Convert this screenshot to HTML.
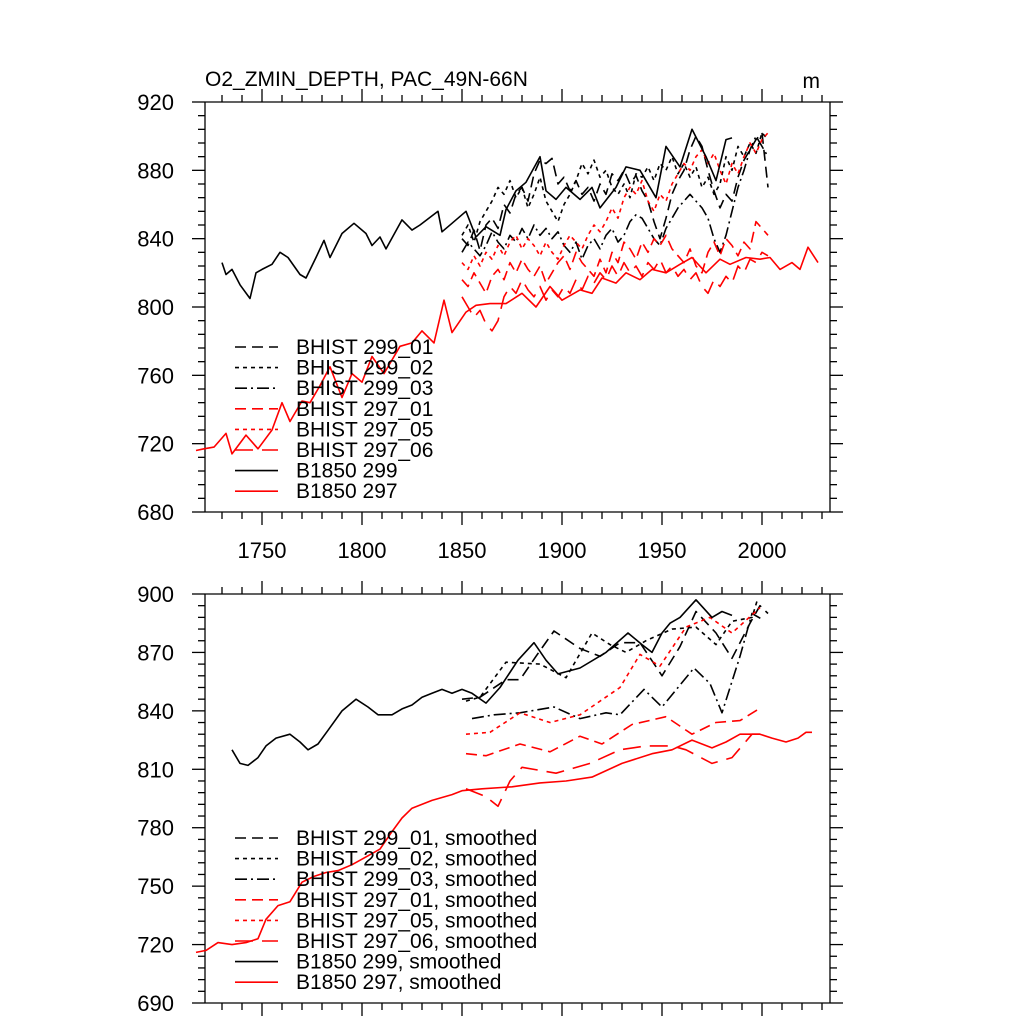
<!DOCTYPE html>
<html><head><meta charset="utf-8"><style>
html,body{margin:0;padding:0;background:#fff;}
svg{display:block;font-family:"Liberation Sans",sans-serif;}
</style></head><body>
<svg id="chart" width="1024" height="1024" viewBox="0 0 1024 1024"></svg>
<script>
// ---------- data ----------
const xTickLabels = ["1750","1800","1850","1900","1950","2000"];
const xTickYears = [1750,1800,1850,1900,1950,2000];
const topYTicks = [680,720,760,800,840,880,920];
const botYTicks = [690,720,750,780,810,840,870,900];

// top panel (BHIST on 3-year steps starting 1850)
const bhistStart = 1850;
const bhistStep = 3;
const top299_01 = [840,836,845,833,848,852,846,860,855,866,870,862,878,886,884,887,872,876,868,874,866,870,862,872,866,878,874,880,872,877,868,862,850,840,852,866,874,880,892,900,894,880,868,858,866,862,876,886,892,898,902,870];
const top299_02 = [842,848,838,850,856,862,870,866,874,864,870,858,866,876,862,856,850,860,866,874,884,878,886,876,880,870,866,872,864,878,876,882,874,884,880,888,878,884,876,882,870,876,866,872,888,880,894,888,896,890,902,898];
const top299_03 = [832,838,834,830,836,844,838,834,842,838,846,840,848,842,846,840,844,836,832,838,828,836,840,834,842,846,838,842,850,854,852,846,840,836,846,852,858,862,866,862,858,852,840,832,842,856,870,880,892,900,894,888];
const top297_01 = [816,812,820,814,808,818,822,816,826,820,828,822,818,824,814,820,826,830,822,832,826,822,818,828,820,832,826,838,834,828,838,832,840,836,842,834,830,826,834,824,820,832,838,830,840,836,830,838,834,850,846,842];
const top297_05 = [826,822,830,824,832,828,836,830,838,842,834,840,836,830,838,832,828,836,842,838,834,842,848,844,850,858,852,864,870,866,874,862,856,866,862,872,878,884,880,888,892,884,890,880,872,884,878,888,896,890,898,902];
const top297_06 = [806,800,794,798,790,786,792,806,812,808,816,810,806,812,804,810,806,812,808,816,810,818,814,820,816,824,818,826,820,824,818,826,822,828,820,824,818,822,816,820,812,808,816,812,818,814,824,820,828,826,832,830];
const topB299Years = [1730,1732,1735,1739,1744,1747,1750,1755,1759,1763,1769,1772,1777,1781,1784,1790,1796,1802,1805,1809,1812,1820,1825,1829,1838,1840,1845,1852,1857,1862,1869,1872,1877,1882,1889,1892,1897,1902,1909,1915,1919,1927,1932,1939,1947,1952,1959,1965,1972,1977,1982,1985];
const topB299Vals = [826,819,822,813,805,820,822,825,832,829,819,817,829,839,829,843,849,843,836,841,834,851,845,848,856,844,849,856,841,847,842,857,868,873,888,868,863,870,863,870,858,870,882,880,864,894,882,904,888,874,898,899];
const topB297Years = [1717,1721,1726,1732,1735,1742,1748,1755,1760,1764,1770,1774,1779,1784,1790,1795,1800,1805,1811,1819,1825,1830,1836,1841,1845,1852,1857,1864,1872,1880,1887,1894,1900,1909,1915,1920,1927,1932,1939,1945,1952,1959,1965,1972,1979,1984,1992,1999,2004,2009,2015,2019,2023,2028];
const topB297Vals = [716,717,718,726,714,725,717,728,744,733,745,744,754,765,747,761,756,771,761,777,779,786,779,804,785,797,801,802,802,808,800,812,804,810,808,817,814,820,816,822,820,825,829,820,828,825,829,828,829,822,826,822,835,826];

// bottom panel (smoothed)
const s01Years = [1850,1859,1872,1879,1887,1896,1909,1919,1929,1939,1950,1959,1967,1977,1985,1994,1999,2003];
const s01Vals = [846,847,856,856,868,881,872,868,875,875,858,873,891,880,867,885,894,890];
const s02Years = [1852,1859,1872,1889,1902,1915,1924,1932,1942,1955,1967,1977,1985,1995,1998];
const s02Vals = [845,847,865,864,857,880,874,870,876,882,883,874,886,888,898];
const s03Years = [1855,1866,1879,1896,1909,1922,1929,1941,1950,1966,1974,1980,1989,1995,2000];
const s03Vals = [836,838,839,842,836,839,838,851,842,862,854,839,868,890,887];
const s297_01Years = [1852,1862,1879,1894,1909,1920,1935,1952,1965,1977,1989,2000];
const s297_01Vals = [818,817,823,819,827,823,833,837,828,834,835,842];
const s297_05Years = [1852,1864,1879,1894,1909,1929,1939,1949,1962,1974,1985,1999];
const s297_05Vals = [828,829,839,834,838,852,869,863,883,888,880,893];
const s297_06Years = [1852,1862,1868,1874,1880,1897,1914,1929,1942,1955,1962,1975,1985,1995,2000];
const s297_06Vals = [800,796,791,804,811,808,813,820,822,822,820,813,816,828,828];
const sB299Years = [1735,1739,1743,1748,1752,1757,1764,1769,1773,1778,1783,1790,1797,1803,1808,1815,1820,1825,1830,1835,1840,1845,1850,1855,1862,1869,1878,1886,1892,1898,1909,1922,1933,1940,1945,1950,1954,1959,1967,1975,1980,1985];
const sB299Vals = [820,813,812,816,822,826,828,824,820,823,830,840,846,842,838,838,841,843,847,849,851,849,851,849,844,852,866,875,866,859,862,870,880,874,870,880,885,888,897,888,891,889];
const sB297Years = [1717,1722,1728,1735,1742,1748,1752,1758,1764,1770,1776,1782,1788,1795,1802,1809,1815,1820,1825,1835,1845,1850,1860,1875,1889,1902,1915,1930,1945,1955,1965,1975,1982,1989,1999,2005,2012,2018,2022,2025];
const sB297Vals = [716,717,721,720,721,723,733,740,742,752,755,757,758,761,765,769,778,785,790,794,797,799,800,801,803,804,806,813,818,820,825,821,824,828,828,826,824,826,829,829];

const legendTop = ["BHIST 299_01","BHIST 299_02","BHIST 299_03","BHIST 297_01","BHIST 297_05","BHIST 297_06","B1850 299","B1850 297"];

// ---------- geometry ----------
const svg = document.getElementById('chart');
const NS = 'http://www.w3.org/2000/svg';
const X0 = 205, X1 = 830, YR0 = 1721.5, YR1 = 2034;
function xs(yr){ return X0 + (yr - YR0) / (YR1 - YR0) * (X1 - X0); }
const topP = {top:102, bot:512, min:680, max:920};
const botP = {top:594, bot:1003, min:690, max:900};
function ys(p, v){ return p.bot - (v - p.min) / (p.max - p.min) * (p.bot - p.top); }

const styles = [
  {c:'#000', d:'11,6'},
  {c:'#000', d:'4,4'},
  {c:'#000', d:'12,4,2,4'},
  {c:'#f00', d:'11,6'},
  {c:'#f00', d:'4,4'},
  {c:'#f00', d:'18,9'},
  {c:'#000', d:''},
  {c:'#f00', d:''}
];

function mk(tag, attrs){ const e = document.createElementNS(NS, tag); for (const k in attrs) e.setAttribute(k, attrs[k]); svg.appendChild(e); return e; }

function line(x1,y1,x2,y2,name){
  const l = mk('line',{x1:x1,y1:y1,x2:x2,y2:y2,stroke:'#000','stroke-width':1.3});
  
  
  return l;
}
function text(x,y,s,anchor,size,name){
  const t = mk('text',{x:x,y:y,'font-size':size,'text-anchor':anchor,fill:'#000'});
  t.textContent = s;
  
  
  return t;
}

function drawSeries(p, years, vals, st, name){
  let d = '';
  for (let i=0;i<vals.length;i++){ d += (i?'L':'M') + xs(years[i]).toFixed(1) + ',' + ys(p, vals[i]).toFixed(1); }
  const path = mk('path',{d:d,fill:'none',stroke:st.c,'stroke-width':1.6,'stroke-linejoin':'round'});
  if (st.d) path.setAttribute('stroke-dasharray', st.d);
  
  
}
function bhistYears(vals){ return vals.map((v,i)=>bhistStart + i*bhistStep); }

function drawAxes(p, ticks, tag, showX){
  const n = tag;
  line(X0,p.top,X0,p.bot,n+'-left-axis');
  line(X1,p.top,X1,p.bot,n+'-right-axis');
  line(X0,p.top,X1,p.top,n+'-top-axis');
  line(X0,p.bot,X1,p.bot,n+'-bottom-axis');
  const step = ticks[1]-ticks[0];
  for (let i=0;i<ticks.length;i++){
    const y = ys(p, ticks[i]);
    line(X0-13,y,X0,y,n+'-y-tick');
    line(X1,y,X1+13,y,n+'-y-tick-right');
    text(174,y+8,String(ticks[i]),'end',22,n+'-y-tick-label');
    if (i<ticks.length-1){
      for (let k=1;k<5;k++){
        const ym = ys(p, ticks[i]+step*k/5);
        line(X0-7,ym,X0,ym,n+'-y-minor-tick');
        line(X1,ym,X1+7,ym,n+'-y-minor-tick-right');
      }
    }
  }
  for (let yr=1730; yr<=2030; yr+=10){
    const x = xs(yr);
    const major = yr % 50 === 0;
    const len = major ? 13 : 7;
    line(x,p.top-len,x,p.top,n+'-x-tick-top');
    line(x,p.bot,x,p.bot+len,n+'-x-tick');
  }
  if (showX){
    for (let i=0;i<xTickYears.length;i++) text(xs(xTickYears[i]), 558, xTickLabels[i], 'middle', 22, 'x-tick-label');
  }
}

function drawLegend(y0, dy, labels){
  for (let i=0;i<labels.length;i++){
    const y = y0 + i*dy;
    const st = styles[i];
    const l = mk('line',{x1:235,y1:y,x2:278,y2:y,stroke:st.c,'stroke-width':1.6});
    if (st.d) l.setAttribute('stroke-dasharray', st.d);
    
    
    text(296, y+7, labels[i], 'start', 21, 'legend-entry');
  }
}

// top panel
drawAxes(topP, topYTicks, 'top', true);
drawSeries(topP, bhistYears(top299_01), top299_01, styles[0], 'top-bhist-299-01');
drawSeries(topP, bhistYears(top299_02), top299_02, styles[1], 'top-bhist-299-02');
drawSeries(topP, bhistYears(top299_03), top299_03, styles[2], 'top-bhist-299-03');
drawSeries(topP, bhistYears(top297_01), top297_01, styles[3], 'top-bhist-297-01');
drawSeries(topP, bhistYears(top297_05), top297_05, styles[4], 'top-bhist-297-05');
drawSeries(topP, bhistYears(top297_06), top297_06, styles[5], 'top-bhist-297-06');
drawSeries(topP, topB299Years, topB299Vals, styles[6], 'top-b1850-299');
drawSeries(topP, topB297Years, topB297Vals, styles[7], 'top-b1850-297');
drawLegend(347, 20.6, legendTop);
text(205, 86, 'O2_ZMIN_DEPTH, PAC_49N-66N', 'start', 21, 'chart-title');
text(820, 88, 'm', 'end', 21, 'units-label');

// bottom panel
drawAxes(botP, botYTicks, 'bottom', false);
drawSeries(botP, s01Years, s01Vals, styles[0], 'bottom-bhist-299-01');
drawSeries(botP, s02Years, s02Vals, styles[1], 'bottom-bhist-299-02');
drawSeries(botP, s03Years, s03Vals, styles[2], 'bottom-bhist-299-03');
drawSeries(botP, s297_01Years, s297_01Vals, styles[3], 'bottom-bhist-297-01');
drawSeries(botP, s297_05Years, s297_05Vals, styles[4], 'bottom-bhist-297-05');
drawSeries(botP, s297_06Years, s297_06Vals, styles[5], 'bottom-bhist-297-06');
drawSeries(botP, sB299Years, sB299Vals, styles[6], 'bottom-b1850-299');
drawSeries(botP, sB297Years, sB297Vals, styles[7], 'bottom-b1850-297');
drawLegend(838, 20.6, legendTop.map(s => s + ', smoothed'));
</script>
</body></html>
